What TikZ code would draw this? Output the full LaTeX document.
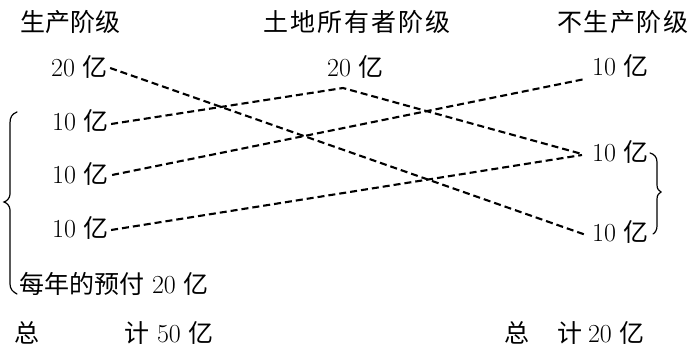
\documentclass[tikz,border=0pt]{standalone}
\usepackage{fontspec}
\newfontfamily\cjk{Noto Sans CJK SC}
\newfontfamily\cjkwa[LetterSpace=6]{Noto Sans CJK SC}
\newfontfamily\cjkwb[LetterSpace=8]{Noto Sans CJK SC}
\newcommand\myfs{\fontsize{26}{30}\selectfont}
\newcommand\yi{{\cjk\fontsize{25}{30}\selectfont 亿}}
\tikzset{
  lbl/.style={inner sep=0pt, anchor=west, font=\myfs},
  head/.style={inner sep=0pt, anchor=west, font=\fontsize{25}{30}\selectfont},
  flow/.style={line width=2.1pt, dash pattern=on 7pt off 4pt},
  brace/.style={line width=1.2pt, line cap=round}
}
\begin{document}
\begin{tikzpicture}[x=1pt,y=-1pt]
\useasboundingbox (0,0) rectangle (693,348);
% headings
\node[head] (h1) at (20,22) {\cjk 生产阶级};
\node[head] (h2) at (263,22) {\cjkwb 土地所有者阶级};
\node[head] (h3) at (557,22) {\cjkwa 不生产阶级};
% left column
\node[lbl] (L1) at (51,67) {20 \yi};
\node[lbl] (L2) at (52,121) {10 \yi};
\node[lbl] (L3) at (52,174) {10 \yi};
\node[lbl] (L4) at (52,228) {10 \yi};
% middle
\node[lbl] (M) at (327,67) {20 \yi};
% right column
\node[lbl] (R1) at (592,66) {10 \yi};
\node[lbl] (R2) at (592,152) {10 \yi};
\node[lbl] (R3) at (592,232) {10 \yi};
% bottom texts
\node[lbl] (adv) at (19,284) {{\cjk\fontsize{25}{30}\selectfont 每年的预付} 20 \yi};
\node[lbl] (t1a) at (14,333) {\cjk\fontsize{25}{30}\selectfont 总};
\node[lbl] (t1b) at (124,333) {{\cjk\fontsize{25}{30}\selectfont 计} 50 \yi};
\node[lbl] (t2a) at (504,333) {\cjk\fontsize{25}{30}\selectfont 总};
\node[lbl] (t2b) at (557,333) {{\cjk\fontsize{25}{30}\selectfont 计}\hspace{-2pt} 20 \yi};
% connectors
\coordinate (peak) at (343,88);
\draw[flow] ([xshift=2pt,yshift=-1pt]L1.east) -- ([xshift=-6pt,yshift=-3pt]R3.west);
\draw[flow] ([xshift=2pt,yshift=-3pt]L2.east) -- (peak) -- ([xshift=-10pt,yshift=-2pt]R2.west);
\draw[flow] ([xshift=3pt,yshift=-1pt]L3.east) -- ([xshift=-7pt,yshift=-13pt]R1.west);
\draw[flow] ([xshift=2pt,yshift=-2pt]L4.east) -- ([xshift=-10pt,yshift=-3pt]R2.west);
% left brace
\draw[brace] (17,112) .. controls (12,114) and (10,117) .. (10,123) -- (10,194)
  .. controls (10,198) and (7,201) .. (4,202) .. controls (7,203) and (10,206) .. (10,210)
  -- (10,284) .. controls (10,289) and (13,292) .. (17,294);
% right brace
\draw[brace] (650,153) .. controls (654,154) and (657,157) .. (657,162) -- (657,185)
  .. controls (657,189) and (659,191) .. (661,192) .. controls (659,193) and (657,195) .. (657,199)
  -- (657,226) .. controls (657,230) and (655,233) .. (653,234);
\end{tikzpicture}
\end{document}
